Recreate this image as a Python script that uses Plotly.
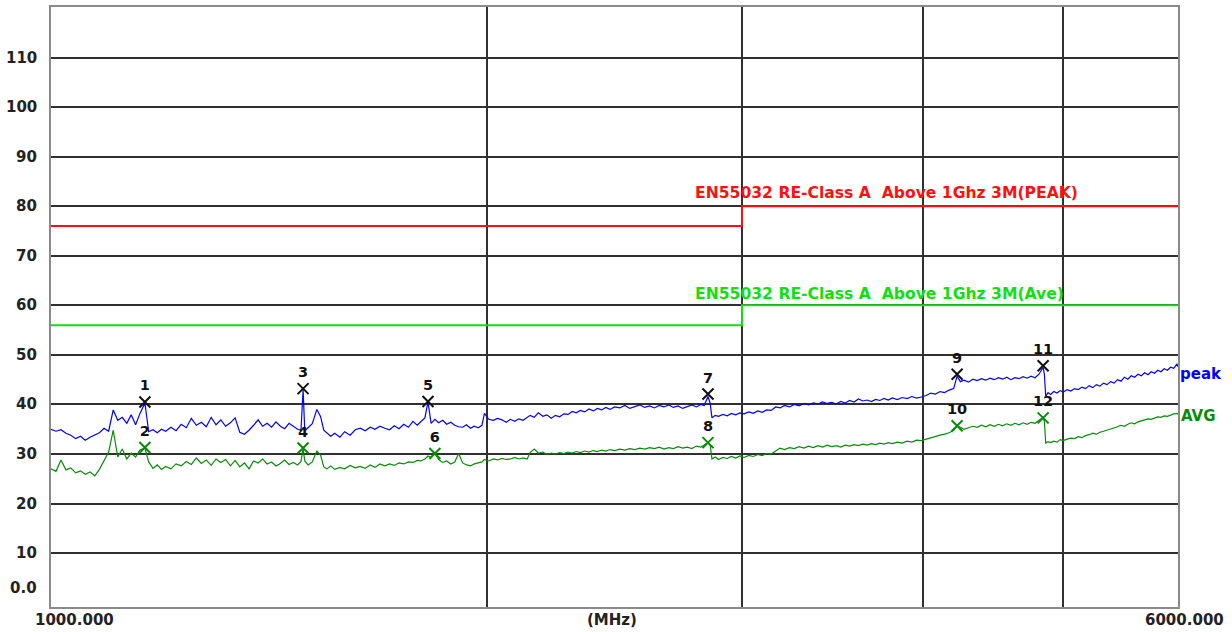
import plotly.graph_objects as go

# ---- sweep data (MHz, dBuV/m) ----
freq = [1000, 1008, 1016, 1024, 1032, 1040, 1048, 1056, 1064, 1072, 1080, 1088, 1096, 1104, 1112, 1120,
        1128, 1136, 1144, 1152, 1161, 1168, 1176, 1184, 1192, 1200, 1210, 1220, 1230, 1240, 1250, 1260,
        1270, 1280, 1290, 1300, 1310, 1320, 1330, 1340, 1350, 1360, 1370, 1380, 1390, 1400, 1410, 1420,
        1430, 1440, 1450, 1460, 1470, 1480, 1488, 1493, 1497, 1505, 1515, 1526, 1535, 1543, 1551, 1560,
        1570, 1583, 1595, 1609, 1622, 1635, 1648, 1661, 1674, 1687, 1700, 1713, 1726, 1739, 1752, 1765,
        1778, 1790, 1800, 1812, 1821, 1830, 1841, 1852, 1864, 1876, 1888, 1900, 1912, 1924, 1936, 1948,
        1960, 1972, 1984, 1992, 2006, 2020, 2034, 2048, 2062, 2076, 2090, 2104, 2118, 2132, 2142, 2156,
        2170, 2186, 2200, 2215, 2230, 2245, 2260, 2275, 2290, 2305, 2320, 2336, 2352, 2368, 2384, 2400,
        2416, 2432, 2450, 2470, 2490, 2510, 2530, 2550, 2570, 2590, 2610, 2630, 2650, 2670, 2690, 2710,
        2730, 2750, 2770, 2790, 2810, 2825, 2842, 2852, 2860, 2875, 2890, 2910, 2930, 2950, 2970, 2990,
        3010, 3032, 3054, 3076, 3098, 3120, 3142, 3165, 3187, 3210, 3235, 3260, 3285, 3310, 3335, 3360,
        3385, 3410, 3435, 3460, 3485, 3510, 3535, 3560, 3585, 3610, 3635, 3660, 3685, 3710, 3735, 3760,
        3785, 3810, 3840, 3870, 3900, 3930, 3960, 3990, 4020, 4050, 4080, 4110, 4140, 4170, 4200, 4223,
        4245, 4270, 4300, 4330, 4360, 4390, 4420, 4450, 4480, 4510, 4540, 4570, 4600, 4630, 4660, 4690,
        4720, 4750, 4780, 4810, 4842, 4852, 4862, 4880, 4900, 4925, 4950, 4975, 5000, 5030, 5060, 5090,
        5120, 5150, 5180, 5210, 5240, 5270, 5300, 5330, 5360, 5390, 5420, 5450, 5480, 5510, 5540, 5570,
        5600, 5630, 5660, 5690, 5720, 5750, 5780, 5810, 5840, 5870, 5900, 5930, 5960, 5990, 6000]

peak = [35.0, 34.6, 34.9, 34.2, 33.8, 33.1, 33.6, 32.8, 33.4, 33.9, 34.3, 35.2, 34.6, 38.9, 36.8, 37.4,
        36.2, 37.9, 35.9, 38.2, 40.3, 34.5, 34.9, 34.3, 35.0, 34.6, 35.4, 34.7, 36.0, 35.3, 37.2, 35.8,
        36.4, 35.5, 37.4, 35.9, 36.9, 35.6, 36.3, 37.3, 34.4, 34.0, 34.8, 35.8, 36.9, 35.6, 36.2, 35.4,
        36.5, 35.6, 35.1, 36.2, 35.5, 35.0, 34.8, 43.0, 34.7, 35.3, 36.1, 39.0, 37.6, 34.8, 34.2, 33.6,
        34.2, 33.4, 34.5, 33.8, 34.9, 35.2, 34.7, 35.4, 35.0, 35.6, 35.2, 34.9, 35.7, 35.1, 36.0, 35.4,
        36.6, 35.8, 36.5, 37.3, 40.5, 36.2, 37.0, 36.3, 36.8, 36.0, 36.4, 35.8, 35.5, 35.4, 35.9, 35.2,
        35.6, 35.3, 35.8, 38.2, 37.0, 36.8, 37.2, 36.9, 36.4, 37.0, 36.6, 37.1, 36.8, 37.3, 37.8, 37.4,
        38.3, 37.6, 37.9, 37.2, 37.8, 37.5, 38.1, 38.0, 38.6, 38.3, 38.8, 38.5, 39.1, 38.7, 39.2, 38.9,
        39.4, 39.0, 39.5, 39.3, 39.8, 39.2, 39.6, 39.9, 39.4, 39.7, 39.3, 39.8, 39.5, 39.9, 39.4, 39.7,
        39.2, 39.6, 39.9, 39.5, 40.0, 39.8, 41.6, 40.2, 37.3, 37.8, 37.6, 38.0, 37.7, 38.2, 37.9, 38.3,
        38.1, 38.5, 38.2, 38.7, 38.4, 38.9, 38.8, 39.5, 39.3, 39.8, 39.5, 40.0, 39.7, 40.2, 39.9, 40.3,
        40.1, 40.5, 40.2, 40.4, 40.1, 40.6, 40.3, 40.8, 40.5, 41.1, 40.7, 40.9, 40.6, 41.0, 40.8, 41.2,
        40.9, 41.3, 41.0, 41.4, 41.2, 41.6, 41.3, 41.5, 41.8, 42.3, 42.1, 42.6, 42.4, 42.9, 43.2, 45.7,
        44.6, 44.9, 44.5, 45.1, 44.8, 45.2, 44.9, 45.3, 45.0, 45.4, 45.1, 45.5, 45.0, 45.4, 45.2, 45.6,
        45.3, 45.7, 45.4, 46.1, 47.5, 46.0, 41.6, 42.4, 42.0, 42.6, 42.3, 42.8, 42.5, 43.0, 42.7, 43.2,
        43.0, 43.5, 43.2, 43.8, 43.4, 44.0, 43.7, 44.3, 44.0, 44.6, 44.3, 45.0, 44.7, 45.5, 45.1, 45.8,
        45.5, 46.1, 45.8, 46.4, 46.0, 46.6, 46.3, 46.9, 46.6, 47.2, 46.9, 47.5, 47.3, 48.2, 47.6]

avg = [27.0, 26.5, 28.8, 26.8, 27.2, 26.2, 26.6, 25.9, 26.4, 25.6, 26.9, 28.6, 30.4, 34.8, 29.4, 31.0,
       29.0, 30.2, 29.4, 30.8, 31.2, 28.4, 27.1, 27.8, 26.9, 27.5, 27.0, 28.0, 27.6, 28.5, 27.9, 29.2,
       28.1, 28.8, 27.7, 29.0, 28.3, 28.9, 27.6, 28.7, 27.4, 28.2, 27.0, 28.6, 28.2, 29.0, 28.0, 28.4,
       27.6, 28.1, 28.8, 27.9, 28.3, 27.8, 28.5, 31.1, 28.6, 27.8, 28.4, 30.6, 29.8, 27.4, 27.0, 27.6,
       26.9, 27.3, 27.0, 27.7, 27.2, 27.5, 27.1, 27.8, 27.3, 28.0, 27.6, 28.0, 27.7, 28.2, 28.0, 28.4,
       28.3, 28.7, 28.6, 29.0, 29.6, 29.3, 30.2, 28.9, 28.3, 28.6, 28.0, 28.4, 30.1, 28.2, 27.8, 27.6,
       28.0, 28.2, 28.4, 28.9, 28.6, 29.0, 28.8, 29.1, 28.9, 29.0, 29.3, 29.0, 29.2, 29.0, 30.3, 31.0,
       30.2, 30.4, 29.9, 30.2, 30.0, 30.3, 30.1, 30.4, 30.2, 30.5, 30.3, 30.6, 30.4, 30.7, 30.5, 30.8,
       30.6, 30.9, 30.7, 31.0, 30.8, 31.1, 30.9, 31.2, 31.0, 31.3, 31.1, 31.4, 31.0, 31.3, 31.1, 31.5,
       31.2, 31.4, 31.1, 31.6, 31.4, 31.8, 32.3, 31.8, 29.0, 29.4, 28.9, 29.3, 29.1, 29.5, 29.2, 29.6,
       29.3, 29.7, 29.5, 29.9, 29.7, 30.1, 30.0, 30.6, 31.2, 30.9, 31.3, 31.1, 31.5, 31.2, 31.6, 31.3,
       31.7, 31.4, 31.8, 31.5, 31.7, 31.4, 31.8, 31.6, 31.9, 31.7, 32.0, 31.8, 32.1, 31.9, 32.2, 32.0,
       32.3, 32.1, 32.4, 32.2, 32.6, 32.4, 32.8, 32.7, 33.0, 33.3, 33.5, 33.8, 34.0, 34.3, 34.8, 35.7,
       35.4, 35.0, 35.3, 35.6, 35.4, 35.8, 35.5, 35.9, 35.6, 36.0, 35.7, 36.1, 35.8, 36.2, 35.9, 36.3,
       36.0, 36.4, 36.2, 36.7, 37.4, 36.5, 32.2, 32.5, 32.3, 32.6, 32.4, 32.9, 32.7, 33.0, 33.2, 33.1,
       33.5, 33.3, 33.7, 33.9, 34.2, 34.0, 34.4, 34.6, 34.8, 35.0, 35.3, 35.5, 35.8, 35.6, 36.0, 36.3,
       36.1, 36.5, 36.7, 36.9, 37.1, 37.0, 37.3, 37.5, 37.4, 37.7, 37.6, 37.9, 38.1, 38.2, 38.0]

# ---- limit lines ----
limit_freq = [1000, 3000, 3000, 6000]
limit_peak = [76, 76, 80, 80]
limit_avg = [56, 56, 60, 60]

# ---- marked points ----
mark_no = ["1", "2", "3", "4", "5", "6", "7", "8", "9", "10", "11", "12"]
mark_freq = [1161, 1161, 1493, 1493, 1821, 1841, 2842, 2842, 4223, 4223, 4842, 4842]
mark_level = [40.5, 31.3, 43.2, 31.2, 40.6, 30.1, 42.1, 32.3, 46.1, 35.7, 47.8, 37.3]

y_ticks = [110, 100, 90, 80, 70, 60, 50, 40, 30, 20, 10]
x_grid = [2000, 3000, 4000, 5000]

BLUE = "#0000ff"
DGREEN = "#098a09"
RED = "#ff1010"
LGREEN = "#10e010"
FONT = "DejaVu Sans"

fig = go.Figure()
fig.add_trace(go.Scatter(x=limit_freq, y=limit_peak, mode="lines",
                         line=dict(color=RED, width=2), hoverinfo="skip"))
fig.add_trace(go.Scatter(x=limit_freq, y=limit_avg, mode="lines",
                         line=dict(color=LGREEN, width=2), hoverinfo="skip"))
fig.add_trace(go.Scatter(x=freq, y=avg, mode="lines",
                         line=dict(color=DGREEN, width=1.2)))
fig.add_trace(go.Scatter(x=freq, y=peak, mode="lines",
                         line=dict(color=BLUE, width=1.2)))

odd = list(range(0, 12, 2))
even = list(range(1, 12, 2))
fig.add_trace(go.Scatter(x=[mark_freq[i] for i in odd], y=[mark_level[i] for i in odd],
                         mode="markers+text", text=[mark_no[i] for i in odd],
                         textposition="top center",
                         textfont=dict(family=FONT, size=14.5, color="#111111", weight="bold"),
                         marker=dict(symbol="x-thin", size=11, line=dict(color="#111111", width=2))))
fig.add_trace(go.Scatter(x=[mark_freq[i] for i in even], y=[mark_level[i] for i in even],
                         mode="markers+text", text=[mark_no[i] for i in even],
                         textposition="top center",
                         textfont=dict(family=FONT, size=14.5, color="#111111", weight="bold"),
                         marker=dict(symbol="x-thin", size=11, line=dict(color=DGREEN, width=2))))

LBL = dict(family=FONT, size=15, color="#222222", weight="bold")
ann = []
for v in y_ticks:
    ann.append(dict(x=-0.011, xref="paper", y=v, yref="y", text=str(v), showarrow=False,
                    xanchor="right", yanchor="middle", font=LBL))
ann.append(dict(x=-0.011, xref="paper", y=3, yref="y", text="0.0", showarrow=False,
                xanchor="right", yanchor="middle", font=LBL))
ann.append(dict(x=0.021, xref="paper", y=-0.003, yref="paper", text="1000.000", showarrow=False,
                xanchor="center", yanchor="top", font=LBL))
ann.append(dict(x=0.498, xref="paper", y=-0.003, yref="paper", text="(MHz)", showarrow=False,
                xanchor="center", yanchor="top", font=LBL))
ann.append(dict(x=1.006, xref="paper", y=-0.003, yref="paper", text="6000.000", showarrow=False,
                xanchor="center", yanchor="top", font=LBL))
ann.append(dict(x=1.0, xref="paper", y=46.2, yref="y", text="peak", showarrow=False,
                xanchor="left", yanchor="middle",
                font=dict(family=FONT, size=15, color=BLUE, weight="bold")))
ann.append(dict(x=1.001, xref="paper", y=37.7, yref="y", text="AVG", showarrow=False,
                xanchor="left", yanchor="middle",
                font=dict(family=FONT, size=15, color=DGREEN, weight="bold")))
ann.append(dict(x=0.5695, xref="paper", y=82.6, yref="y",
                text="EN55032 RE-Class A  Above 1Ghz 3M(PEAK)", showarrow=False,
                xanchor="left", yanchor="middle",
                font=dict(family=FONT, size=15.6, color=RED, weight="bold")))
ann.append(dict(x=0.5695, xref="paper", y=62.3, yref="y",
                text="EN55032 RE-Class A  Above 1Ghz 3M(Ave)", showarrow=False,
                xanchor="left", yanchor="middle",
                font=dict(family=FONT, size=15.6, color=LGREEN, weight="bold")))

fig.update_layout(
    width=1232, height=632,
    margin=dict(l=51, r=54, t=5, b=25),
    paper_bgcolor="white", plot_bgcolor="white",
    showlegend=False,
    annotations=ann,
    xaxis=dict(type="log", range=[3, 3.77815], tickvals=x_grid, showticklabels=False,
               showgrid=True, gridcolor="#303030", gridwidth=1.5, ticks="",
               showline=True, linecolor="#8a8a8a", linewidth=2, mirror=True, zeroline=False),
    yaxis=dict(range=[-0.87, 120.2], tickvals=y_ticks, showticklabels=False,
               showgrid=True, gridcolor="#303030", gridwidth=1.5, ticks="",
               showline=True, linecolor="#8a8a8a", linewidth=2, mirror=True, zeroline=False),
)

fig.write_html("out.html", config={"displayModeBar": False},
               post_script="document.body.style.margin='0px';document.body.style.overflow='hidden';")
